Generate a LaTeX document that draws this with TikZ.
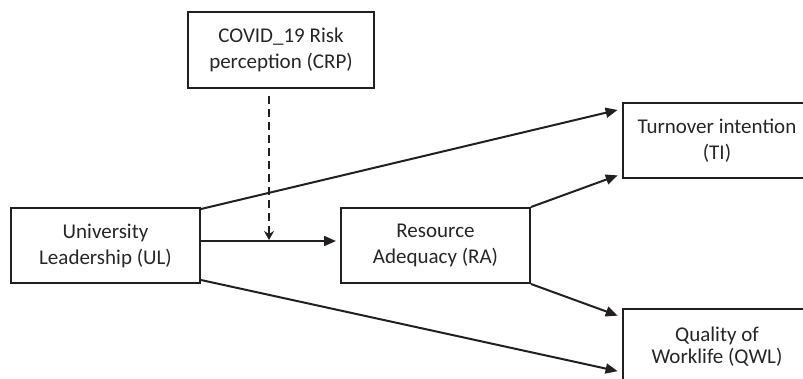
\documentclass[tikz,border=0pt]{standalone}
\usepackage{fontspec}
\setmainfont{Carlito}
\usetikzlibrary{arrows.meta,calc}
\definecolor{ink}{HTML}{231F20}
\definecolor{txt}{HTML}{262626}
\begin{document}
\begin{tikzpicture}[x=1pt,y=-1pt,
  box/.style={draw=ink,line width=2pt,minimum width=189pt,minimum height=75pt,
    inner sep=0pt,align=center,text=txt,font=\fontsize{21}{26}\selectfont},
  conn/.style={draw=ink,line width=2pt,-{Triangle[length=12pt,width=10pt]},shorten >=4pt},
  dconn/.style={draw=ink,line width=2pt,dash pattern=on 8pt off 5pt,
    -{Stealth[length=9pt,width=10pt,inset=3pt]}}]
\useasboundingbox (0,0) rectangle (803,378);
\node[box,minimum width=186pt,minimum height=76pt] (crp) at (281,50) {COVID\_19 Risk\\perception (CRP)};
\node[box] (ul) at (105.5,245.5) {University\\Leadership (UL)};
\node[box] (ra) at (435.5,245.5) {Resource\\Adequacy (RA)};
\node[box] (ti) at (717,140.5) {Turnover intention\\(TI)};
\node[box,font=\fontsize{21}{22}\selectfont] (qwl) at (717,346.5) {Quality of\\Worklife (QWL)};
% connectors
\coordinate (ulmid) at ($(ul.east)+(0,-4.5)$);
\draw[conn] (ulmid) -- (ulmid -| ra.west);
\draw[conn] ($(ul.north east)+(0,2)$) -- ($(ti.north west)+(0,7)$);
\draw[conn] ($(ul.south east)+(0,-4)$) -- ($(qwl.north west)+(0,64)$);
\draw[conn] (ra.north east) -- ($(ti.south west)+(0,-5)$);
\draw[conn] (ra.south east) -- ($(qwl.north west)+(0,9)$);
\coordinate (mod) at (269,240);
\draw[dconn] ($(crp.south -| mod)+(0,7)$) -- (mod);
\end{tikzpicture}
\end{document}
